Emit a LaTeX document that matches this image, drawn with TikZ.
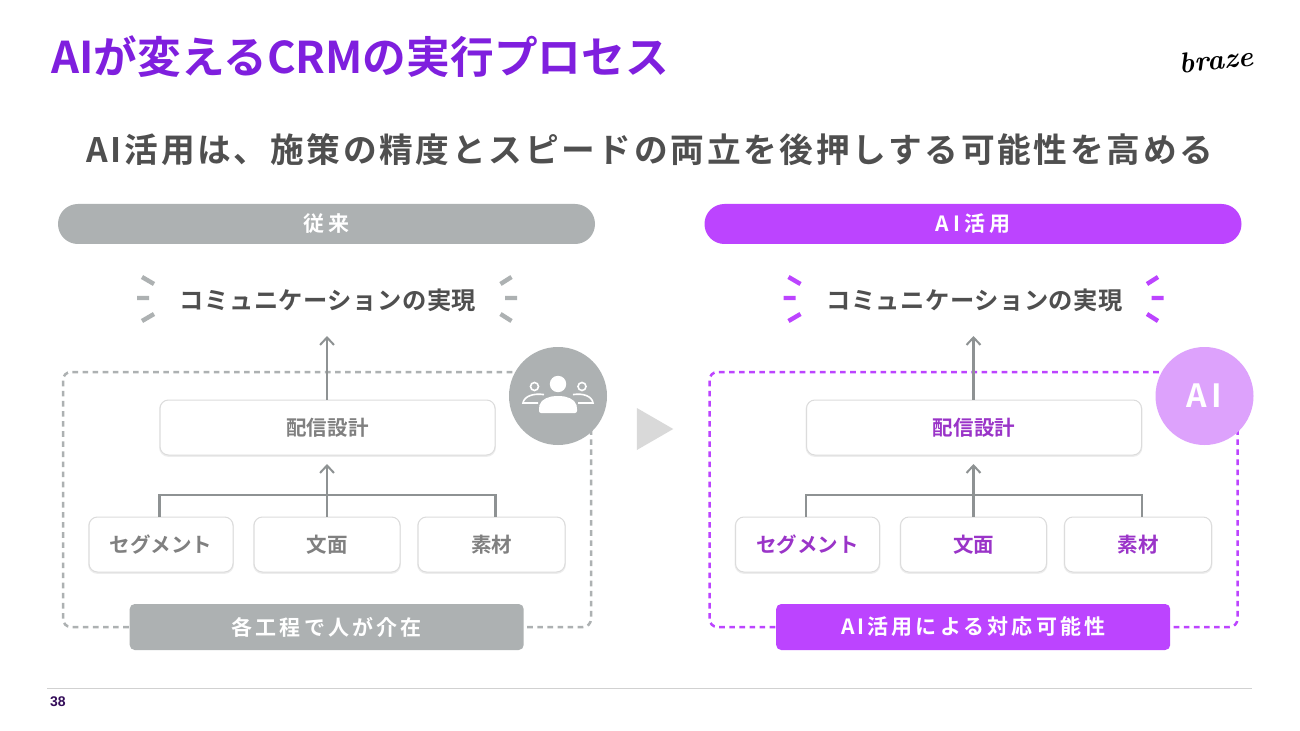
\documentclass[tikz,border=0pt]{standalone}
\usepackage{fontspec}
\setmainfont{Noto Sans CJK JP}[BoldFont={Noto Sans CJK JP Bold}]
\newfontfamily\latinbold{Liberation Sans}
\newfontfamily\logofont{Latin Modern Roman}
\usetikzlibrary{arrows.meta,shapes.geometric,calc}
\def\PX{0.75pt}
\newcommand\fz[2]{\fontsize{\fpeval{#1*0.75}pt}{\fpeval{#1*0.9}pt}\selectfont\bfseries\addfontfeature{LetterSpace=#2}}
\definecolor{greyfill}{HTML}{ADB1B2}
\definecolor{violetfill}{HTML}{BC44FF}
\definecolor{violetsoft}{HTML}{DDA2FC}
\definecolor{titleviolet}{HTML}{7F1FDE}
\definecolor{headtext}{HTML}{4F4F4F}
\definecolor{greytext}{HTML}{808080}
\definecolor{violettext}{HTML}{9A34C8}
\definecolor{linegrey}{HTML}{8E9293}
\definecolor{boxedge}{HTML}{DCDCDC}
\tikzset{
  x=0.75pt,y=-0.75pt,
  card/.style={draw=boxedge,line width=0.75pt,fill=white,rounded corners=8.5*\PX,
     preaction={draw=black!7,line width=1.4pt,rounded corners=8.5*\PX,transform canvas={yshift=-0.7pt}},
     inner sep=0pt,minimum height=55*\PX},
  pill/.style={rounded corners=19.9*\PX,inner sep=0pt,minimum width=537*\PX,minimum height=40*\PX,text=white},
  bar/.style={rounded corners=5*\PX,inner sep=0pt,minimum width=394*\PX,minimum height=46*\PX,text=white},
  dashframe/.style={draw,line width=2.5*\PX,rounded corners=8*\PX,dash pattern=on 5.6*\PX off 4.5*\PX,
     inner sep=0pt,minimum width=528*\PX,minimum height=255*\PX},
  flow/.style={draw=linegrey,line width=2.3*\PX},
  flowarrow/.style={flow,-{Straight Barb[length=7.5*\PX,width=14*\PX,line width=2*\PX]}},
  ray/.style={line width=4.4*\PX},
  badge/.style={circle,inner sep=0pt,minimum size=98*\PX},
  plain/.style={inner sep=0pt},
}
\newcommand\panel[8]{% prefix, xshift, accent, box text, pill text, bar text, badge colour, badge text
\begin{scope}[xshift=#2*\PX]
  \node[dashframe,draw=#3] (#1frame) at (327,499.5) {};
  \node[pill,fill=#3] (#1pill) at (326.5,224) {\fz{21}{20}#5};
  \node[plain,text=headtext] (#1goal) at (328,300.5) {\fz{24.3}{2}コミュニケーションの実現};
  \coordinate (#1ta) at (142,277); \coordinate (#1tb) at (154,284);
  \coordinate (#1ma) at (137,298); \coordinate (#1mb) at (149,298);
  \coordinate (#1ba) at (142,321); \coordinate (#1bb) at (154,314);
  \coordinate (#1ua) at (511.5,277); \coordinate (#1ub) at (500.5,284);
  \coordinate (#1na) at (517,298); \coordinate (#1nb) at (505,298);
  \coordinate (#1da) at (511.5,321); \coordinate (#1db) at (500.5,314);
  \draw[ray,draw=#3] (#1ta)--(#1tb) (#1ma)--(#1mb) (#1ba)--(#1bb) (#1ua)--(#1ub) (#1na)--(#1nb) (#1da)--(#1db);
  \node[card,minimum width=335*\PX,text=#4] (#1plan) at (327.5,427.5) {\fz{20.5}{1.5}配信設計};
  \node[card,minimum width=144*\PX,text=#4] (#1seg) at (161,544.5) {\fz{20.5}{0}セグメント};
  \node[card,minimum width=146*\PX,text=#4] (#1txt) at (327,544.5) {\fz{20.5}{0}文面};
  \node[card,minimum width=147*\PX,text=#4] (#1mat) at (491.5,544.5) {\fz{20.5}{0}素材};
  \coordinate (#1goalin) at (327,336);
  \coordinate (#1planin) at (327,464);
  \coordinate (#1join) at (327,495);
  \draw[flowarrow] (#1plan.north -| #1goalin) -- (#1goalin);
  \draw[flow] (#1seg.north -| #1plan.west) -- (#1join -| #1plan.west) -- (#1join -| #1plan.east) -- (#1mat.north -| #1plan.east);
  \draw[flowarrow] (#1txt.north -| #1planin) -- (#1planin);
  \node[bar,fill=#3] (#1bar) at (326.7,627) {\fz{21}{15}#6};
  \node[badge,fill=#7] (#1badge) at (558,396) {#8};
\end{scope}}
\begin{document}
\begin{tikzpicture}
\useasboundingbox (0,0) rectangle (1300,731);
\fill[white] (0,0) rectangle (1300,731);
\node[plain,anchor=west,text=titleviolet] (title) at (51,57) {\fz{43.7}{0}AIが変えるCRMの実行プロセス};
\node[plain,anchor=east,rotate=6] (logo) at (1253,56) {\logofont\fontsize{21.5}{22}\selectfont\bfseries\itshape braze};
\node[plain,text=headtext] (sub) at (650,150) {\fz{33.7}{8}AI活用は、施策の精度とスピードの両立を後押しする可能性を高める};
\panel{l}{0}{greyfill}{greytext}{従来}{各工程で人が介在}{greyfill}{}
\panel{r}{646.5}{violetfill}{violettext}{AI活用}{AI活用による対応可能性}{violetsoft}{\textcolor{white}{\fz{32}{14}AI}}
% people icon
\fill[white] (558,384) circle (8.2);
\fill[white,rounded corners=1.5] (539,413) -- (539,407) .. controls (541,399) and (550,396) .. (558,396) .. controls (566,396) and (575,399) .. (577,407) -- (577,413) -- cycle;
\draw[white,line width=1.2] (534.5,386.5) circle (4) (582,386.5) circle (4);
\draw[white,line width=1.2] (544,394.6) .. controls (534,393) and (524,396) .. (523,403) -- (538,403);
\draw[white,line width=1.2] (573,394.6) .. controls (583,393) and (592,396) .. (593,403) -- (578,403);
% centre triangle
\node[isosceles triangle,isosceles triangle apex angle=60,fill=black!15,inner sep=0pt,minimum height=36*\PX,minimum width=42*\PX,shape border rotate=0,anchor=center] (next) at (649,429) {};
% footer
\coordinate (fl) at (47,688); \coordinate (fr) at (1252,688);
\draw[draw=black!18,line width=1*\PX] (fl) -- (fr);
\node[plain,text=black!60!titleviolet] (pageno) at (58,701.5) {\latinbold\bfseries\fontsize{10.5}{12}\selectfont 38};
\end{tikzpicture}
\end{document}
